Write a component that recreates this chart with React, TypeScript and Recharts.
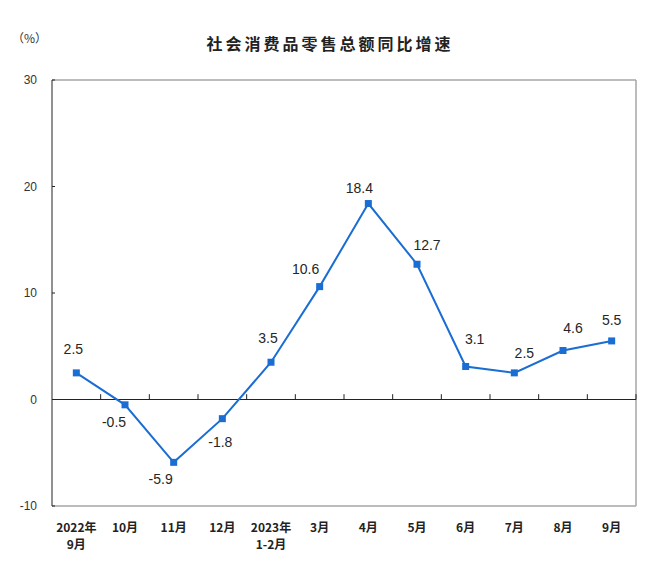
import React from "react";
import {
  LineChart,
  Line,
  XAxis,
  YAxis,
  ReferenceLine,
  LabelList,
} from "recharts";

document.body.style.margin = "0";

const MONTHS = [
  ["2022年", "9月"],
  ["10月"],
  ["11月"],
  ["12月"],
  ["2023年", "1-2月"],
  ["3月"],
  ["4月"],
  ["5月"],
  ["6月"],
  ["7月"],
  ["8月"],
  ["9月"],
];
const GROWTH = [2.5, -0.5, -5.9, -1.8, 3.5, 10.6, 18.4, 12.7, 3.1, 2.5, 4.6, 5.5];
const Y_TICKS = [-10, 0, 10, 20, 30];

// label placement tweaks (px), to follow the original layout
const LABEL_DX = [-3, -11, -13, -2, -3, -14, -9, 10, 9, 10, 10, 0];
const LABEL_DY = [-24, 17, 17, 23, -24, -18, -16, -19, -27, -20, -23, -21];

const LINE = "#1a6dd2";
const FRAME = "#a6a6a6";

const data = GROWTH.map((v, i) => ({ x: i, value: v }));
const boundaries = MONTHS.map((_, i) => i + 0.5);

function MonthTick({ x, y, payload }: { x?: number; y?: number; payload?: { value: number } }) {
  if (x == null || y == null || !payload) return null;
  const lines = MONTHS[payload.value] ?? [];
  return (
    <g>
      {lines.map((t, j) => (
        <text
          key={j}
          x={x}
          y={y + 18 + j * 17}
          textAnchor="middle"
          fontSize={12}
          fontWeight="bold"
          fill="#222"
          fontFamily="'Noto Sans CJK SC', sans-serif"
        >
          {t}
        </text>
      ))}
    </g>
  );
}

function SquareDot(props: any) {
  const { cx, cy, index } = props;
  if (cx == null || cy == null) return null;
  return <rect key={`d-${index}`} x={cx - 3.5} y={cy - 3.5} width={7} height={7} fill={LINE} />;
}

function ValueLabel(props: any) {
  const { x, y, value, index } = props;
  return (
    <text
      x={x + LABEL_DX[index]}
      y={y + LABEL_DY[index]}
      textAnchor="middle"
      dominantBaseline="central"
      fontSize={14}
      fill="#262626"
      fontFamily="'Liberation Sans', Arial, sans-serif"
    >
      {Number(value).toFixed(1)}
    </text>
  );
}

export default function App() {
  return (
    <div style={{ position: "relative", width: 660, height: 569, background: "#fff" }}>
      <div
        style={{
          position: "absolute",
          left: 12,
          top: 29,
          fontSize: 12,
          color: "#333",
          fontFamily: "'Noto Sans CJK SC', sans-serif",
        }}
      >
        （%）
      </div>
      <div
        style={{
          position: "absolute",
          left: 0,
          width: 660,
          top: 31,
          textAlign: "center",
          fontSize: 16,
          letterSpacing: 3,
          fontWeight: "bold",
          color: "#222",
          fontFamily: "'Noto Sans CJK SC', sans-serif",
        }}
      >
        社会消费品零售总额同比增速
      </div>
      <LineChart
        width={660}
        height={569}
        data={data}
        margin={{ top: 80, right: 24, bottom: 13, left: 12 }}
      >
        <XAxis
          dataKey="x"
          type="number"
          domain={[-0.5, 11.5]}
          ticks={MONTHS.map((_, i) => i)}
          tick={<MonthTick />}
          axisLine={false}
          tickLine={false}
          height={50}
          interval={0}
        />
        <YAxis
          domain={[-10, 30]}
          ticks={Y_TICKS}
          width={40}
          axisLine={{ stroke: "#222", strokeWidth: 1 }}
          tickLine={{ stroke: "#222" }}
          tickSize={-3}
          tickMargin={18}
          tick={{ fontSize: 12, fill: "#333", fontFamily: "'Liberation Sans', Arial, sans-serif" }}
        />
        <ReferenceLine y={30} stroke={FRAME} strokeWidth={1.5} />
        <ReferenceLine y={-10} stroke={FRAME} strokeWidth={1.5} />
        <ReferenceLine x={11.5} stroke={FRAME} strokeWidth={1.5} />
        <ReferenceLine y={0} stroke="#222" strokeWidth={1} />
        {boundaries.map((b) => (
          <ReferenceLine
            key={`b-${b}`}
            segment={[
              { x: b, y: 0 },
              { x: b, y: 0.5 },
            ]}
            stroke="#222"
            strokeWidth={1}
          />
        ))}
        <Line
          dataKey="value"
          stroke={LINE}
          strokeWidth={2}
          dot={<SquareDot />}
          activeDot={false}
          isAnimationActive={false}
        >
          <LabelList dataKey="value" content={<ValueLabel />} />
        </Line>
      </LineChart>
    </div>
  );
}
